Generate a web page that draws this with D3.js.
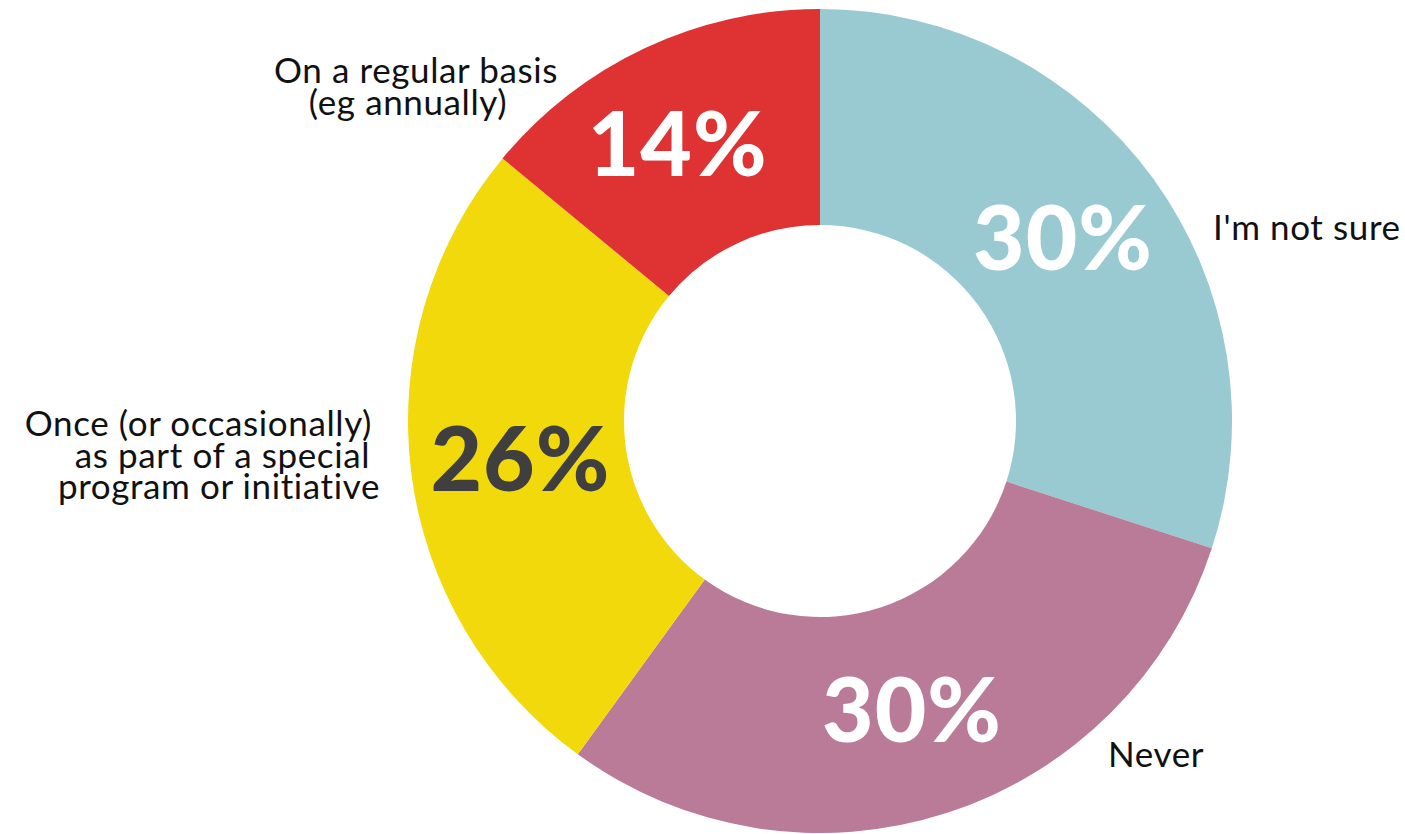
<!DOCTYPE html>
<html>
<head>
<meta charset="utf-8">
<script src="https://cdn.jsdelivr.net/npm/d3@7"></script>
<style>
  html, body { margin: 0; padding: 0; background: #fff; }
  svg { display: block; }
</style>
</head>
<body>
<svg id="chart" width="1405" height="834"></svg>
<script>
// Survey answers, clockwise from 12 o'clock
const categories = ["I'm not sure", "Never", "Once (or occasionally) as part of a special program or initiative", "On a regular basis (eg annually)"];
const values = [30, 30, 26, 14];
const colors = ["#99C9D1", "#BA7B98", "#F2D90C", "#DE3233"];
const valueTextColors = ["#ffffff", "#ffffff", "#3f3f3f", "#ffffff"];
const labelLines = [
  ["I'm not sure"],
  ["Never"],
  ["Once (or occasionally)", "as part of a special", "program or initiative"],
  ["On a regular basis", "(eg annually)"]
];

const svg = d3.select("#chart");
const cx = 820, cy = 421;
const outerR = 412, innerR = 196;

const g = svg.append("g").attr("transform", `translate(${cx},${cy})`);

const pie = d3.pie().sort(null).value(d => d.value);
const data = pie(values.map((v, i) => ({ value: v, i })));

const arc = d3.arc().innerRadius(innerR).outerRadius(outerR);
const labelArc = d3.arc().innerRadius(304).outerRadius(304);

g.selectAll("path.slice")
  .data(data)
  .join("path")
  .attr("class", "slice")
  .attr("d", arc)
  .attr("fill", d => colors[d.data.i]);

// Small nudges so the percent figures sit optically centred in each slice
const pctNudge = [[-3, -4], [-2, 0], [2, 0], [-13, -2]];

g.selectAll("text.pct")
  .data(data)
  .join("text")
  .attr("class", "pct")
  .attr("transform", d => {
    const [x, y] = labelArc.centroid(d);
    const [nx, ny] = pctNudge[d.data.i];
    return `translate(${x + nx},${y + ny})`;
  })
  .attr("text-anchor", "middle")
  .attr("dy", "0.36em")
  .attr("font-family", "Lato, sans-serif")
  .attr("font-weight", 900)
  .attr("font-size", 89)
  .attr("letter-spacing", 1)
  .attr("fill", d => valueTextColors[d.data.i])
  .text(d => d.data.value + "%");

// Category labels placed around the ring (per-line x positions)
const labelPos = [
  { xs: [1213], y: 240, anchor: "start" },
  { xs: [1108], y: 767, anchor: "start" },
  { xs: [372, 370, 380], y: 436, anchor: "end" },
  { xs: [416, 408], y: 83, anchor: "middle" }
];
const lineHeight = 31.5;

categories.forEach((c, i) => {
  const p = labelPos[i];
  const t = svg.append("text")
    .attr("class", "cat")
    .attr("x", p.xs[0])
    .attr("y", p.y)
    .attr("text-anchor", p.anchor)
    .attr("font-family", "Lato, sans-serif")
    .attr("font-size", 35)
    .attr("letter-spacing", 0.6)
    .attr("fill", "#111");
  labelLines[i].forEach((line, j) => {
    t.append("tspan")
      .attr("x", p.xs[j])
      .attr("y", p.y + j * lineHeight)
      .text(line);
  });
});
</script>
</body>
</html>
